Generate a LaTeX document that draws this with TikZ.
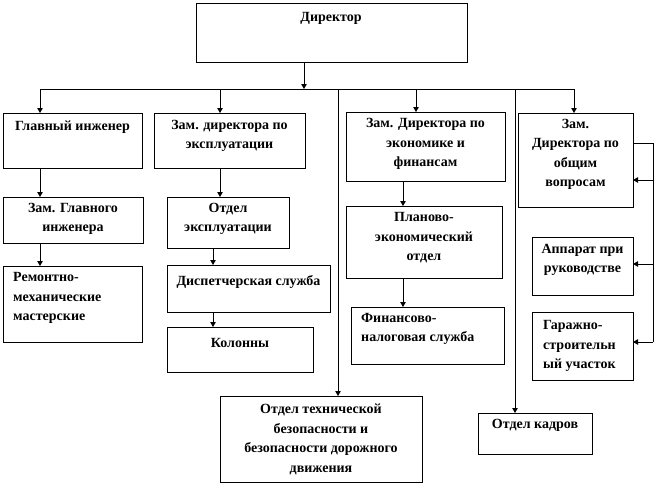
\documentclass[tikz,border=0pt]{standalone}
\usepackage{fontspec}
\setmainfont{Liberation Serif}[BoldFont={Liberation Serif Bold}]
\usetikzlibrary{arrows.meta}
\tikzset{
  box/.style={draw=black, line width=0.7pt, inner sep=0pt, outer sep=0pt, anchor=north west, fill=white},
  txt/.style={font=\bfseries\fontsize{14}{19.5}\selectfont, inner sep=0pt, align=center},
  ltxt/.style={font=\bfseries\fontsize{14}{19.5}\selectfont, inner sep=0pt, align=left, anchor=west},
  ln/.style={line width=0.8pt, black},
  arr/.style={line width=0.8pt, black, -{Triangle[length=5pt,width=5.5pt]}}
}
\newcommand{\bx}[5]{\node[box, minimum width=#4pt-#2pt, minimum height=#5pt-#3pt] (#1) at (#2,#3) {};}
\begin{document}
\begin{tikzpicture}[x=1pt,y=-1pt]
\useasboundingbox (0,0) rectangle (655,485);
% boxes
\bx{dir}{196}{3}{467}{62}
\bx{gi}{3}{113}{142}{168}
\bx{zde}{154}{113}{305}{168}
\bx{ze}{346}{112}{505}{181}
\bx{zo}{518}{113}{633}{207}
\bx{zgi}{3}{197}{143}{243}
\bx{oe}{167}{197}{289}{248}
\bx{rm}{3}{266}{142}{342}
\bx{ds}{167}{265}{330}{312}
\bx{kol}{167}{327}{313}{372}
\bx{pe}{346}{206}{502}{278}
\bx{fn}{351}{307}{504}{364}
\bx{ap}{532}{237}{633}{295}
\bx{gs}{532}{312}{633}{380}
\bx{otb}{220}{396}{422}{482}
\bx{ok}{478}{413}{592}{454}
% texts
\node[txt] (dirt) at (331,18) {Директор};
\node[txt] (git) at (72.5,127) {Главный инженер};
\node[txt] (zdet) at (229.5,136) {Зам. директора по\\эксплуатации};
\node[txt] (zet) at (425.5,144) {Зам. Директора по\\экономике и\\финансам};
\node[txt] (zot) at (575.5,154.5) {Зам.\\Директора по\\общим\\вопросам};
\node[txt] (zgit) at (73,219) {Зам. Главного\\инженера};
\node[txt] (oet) at (228,219) {Отдел\\эксплуатации};
\node[ltxt] (rmt) at (13,298) {Ремонтно-\\механические\\мастерские};
\node[txt] (dst) at (248.5,282) {Диспетчерская служба};
\node[txt] (kolt) at (240,343) {Колонны};
\node[txt] (pet) at (424,238) {Планово-\\экономический\\отдел};
\node[ltxt] (fnt) at (361,329) {Финансово-\\налоговая служба};
\node[txt] (apt) at (582.5,260) {Аппарат при\\руководстве};
\node[ltxt] (gst) at (543,346) {Гаражно-\\строительн\\ый участок};
\node[txt] (otbt) at (321,439.5) {Отдел технической\\безопасности и\\безопасности дорожного\\движения};
\node[txt] (okt) at (535,425) {Отдел кадров};
% bus
\coordinate (b0) at (304,89);
\coordinate (bL) at (40,89);
\coordinate (bR) at (574,89);
\coordinate (b2) at (220,89);
\coordinate (b3) at (416,89);
\coordinate (bA) at (338,89);
\coordinate (bB) at (515,89);
\draw[arr] (dir.south -| b0) -- (b0);
\draw[ln] (bL) -- (bR);
\draw[arr] (bL) -- (bL |- gi.north);
\draw[arr] (b2) -- (b2 |- zde.north);
\draw[arr] (b3) -- (b3 |- ze.north);
\draw[arr] (bR) -- (bR |- zo.north);
\draw[arr] (bA) -- (bA |- otb.north);
\draw[arr] (bB) -- (bB |- ok.north);
% vertical chains
\coordinate (c1) at (40,0);
\coordinate (c2) at (220,0);
\coordinate (c3) at (213,0);
\coordinate (c4) at (403,0);
\draw[arr] (c1 |- gi.south) -- (c1 |- zgi.north);
\draw[arr] (c1 |- zgi.south) -- (c1 |- rm.north);
\draw[arr] (c2 |- zde.south) -- (c2 |- oe.north);
\draw[arr] (c3 |- oe.south) -- (c3 |- ds.north);
\draw[arr] (c3 |- ds.south) -- (c3 |- kol.north);
\draw[arr] (c4 |- ze.south) -- (c4 |- pe.north);
\draw[arr] (c4 |- pe.south) -- (c4 |- fn.north);
% right side
\coordinate (r0) at (653,143);
\coordinate (r1) at (653,180);
\coordinate (r2) at (653,264);
\coordinate (r3) at (653,342);
\draw[ln] (zo.east |- r0) -- (r0) -- (r3);
\draw[arr] (r1) -- (r1 -| zo.east);
\draw[arr] (r2) -- (r2 -| ap.east);
\draw[arr] (r3) -- (r3 -| gs.east);
\end{tikzpicture}
\end{document}
